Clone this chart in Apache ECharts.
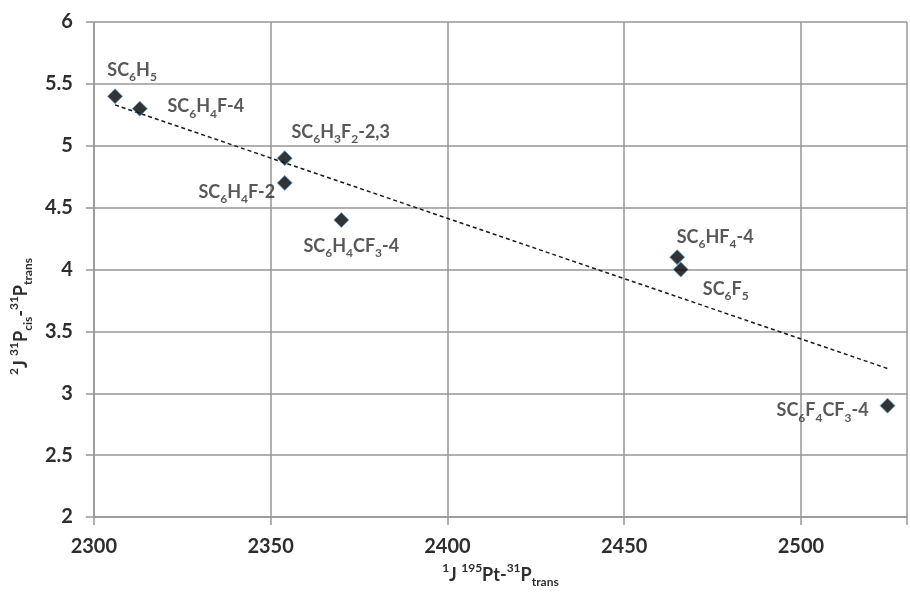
<!DOCTYPE html>
<html>
<head>
<meta charset="utf-8">
<script src="https://cdn.jsdelivr.net/npm/echarts@6/dist/echarts.min.js"></script>
<style>html,body{margin:0;padding:0;background:#fff}#c{width:910px;height:598px}</style>
</head>
<body>
<div id="c"></div>
<script>
// Data
var compounds = ['{m|SC}{s|6}{m|H}{s|5}', '{m|SC}{s|6}{m|H}{s|4}{m|F-4}', '{m|SC}{s|6}{m|H}{s|3}{m|F}{s|2}{m|-2,3}',
                 '{m|SC}{s|6}{m|H}{s|4}{m|F-2}', '{m|SC}{s|6}{m|H}{s|4}{m|CF}{s|3}{m|-4}', '{m|SC}{s|6}{m|HF}{s|4}{m|-4}',
                 '{m|SC}{s|6}{m|F}{s|5}', '{m|SC}{s|6}{m|F}{s|4}{m|CF}{s|3}{m|-4}'];
var jPtP = [2306, 2313, 2354, 2354, 2370, 2465, 2466, 2524.5];
var jPP = [5.4, 5.3, 4.9, 4.7, 4.4, 4.1, 4.0, 2.9];
var trendX = [2306, 2524.5];
var trendY = [5.33, 3.2];
var xTicks = [2300, 2350, 2400, 2450, 2500];
var yTicks = [2, 2.5, 3, 3.5, 4, 4.5, 5, 5.5, 6];

// label offsets (layout only)
var labelOffsets = [[17, -26], [66, -2], [56, -26], [-48, 9], [10, 26], [38, -20], [45, 20], [-65, 5]];

var FONT = 'Lato';
var TXT = '#2e2e2e';
var GRIDC = '#979797';

var chart = echarts.init(document.getElementById('c'), null, {renderer: 'canvas'});

var scatterData = jPtP.map(function (x, i) {
  return {
    value: [x, jPP[i]],
    label: {
      show: true,
      position: ['50%', '50%'],
      align: 'center',
      verticalAlign: 'middle',
      offset: labelOffsets[i],
      formatter: compounds[i]
    }
  };
});

var richStyles = {
  m: {fontFamily: FONT, fontWeight: 'bold', fontSize: 18, color: TXT, lineHeight: 26, verticalAlign: 'middle'},
  s: {fontFamily: FONT, fontWeight: 'bold', fontSize: 12, color: TXT, verticalAlign: 'bottom'},
  sup: {fontFamily: FONT, fontWeight: 'bold', fontSize: 12, color: TXT, verticalAlign: 'top'},
  sub: {fontFamily: FONT, fontWeight: 'bold', fontSize: 12, color: TXT, verticalAlign: 'bottom'}
};

var option = {
  animation: false,
  backgroundColor: '#fff',
  grid: {left: 87, top: 22, width: 830, height: 495, containLabel: false},
  xAxis: {
    type: 'value',
    min: 2300, max: 2530, interval: 50,
    axisLine: {show: true, lineStyle: {color: GRIDC, width: 1.5}},
    axisTick: {show: true, length: 8, lineStyle: {color: GRIDC, width: 1.5}},
    splitLine: {show: true, lineStyle: {color: GRIDC, width: 1.5}},
    axisLabel: {
      margin: 20, color: TXT, fontFamily: FONT, fontWeight: 'bold', fontSize: 20,
      formatter: function (v) { return xTicks.indexOf(v) >= 0 ? String(v) : ''; }
    },
    name: '{sup|1}{m|J }{sup|195}{m|Pt-}{sup|31}{m|P}{sub|trans}',
    nameLocation: 'middle',
    nameGap: 40,
    nameTextStyle: {
      color: TXT, fontFamily: FONT, fontWeight: 'bold', fontSize: 18, lineHeight: 26,
      rich: richStyles
    }
  },
  yAxis: {
    type: 'value',
    min: 2, max: 6, interval: 0.5,
    axisLine: {show: true, lineStyle: {color: GRIDC, width: 1.5}},
    axisTick: {show: true, length: 8, lineStyle: {color: GRIDC, width: 1.5}},
    splitLine: {show: true, lineStyle: {color: GRIDC, width: 1.5}},
    axisLabel: {
      margin: 21, color: TXT, fontFamily: FONT, fontWeight: 'bold', fontSize: 20,
      formatter: function (v) { return yTicks.indexOf(v) >= 0 ? String(v) : ''; }
    },
    name: '{sup|2}{m|J }{sup|31}{m|P}{sub|cis}{m|-}{sup|31}{m|P}{sub|trans}',
    nameLocation: 'middle',
    nameRotate: 90,
    nameGap: 52,
    nameTextStyle: {
      color: TXT, fontFamily: FONT, fontWeight: 'bold', fontSize: 18, lineHeight: 26,
      padding: [0, 94, 0, 0],
      rich: richStyles
    }
  },
  series: [
    {
      type: 'line',
      data: trendX.map(function (x, i) { return [x, trendY[i]]; }),
      symbol: 'none',
      silent: true,
      z: 2,
      lineStyle: {color: '#1a1a1a', width: 1.5, type: [4, 3]}
    },
    {
      type: 'scatter',
      data: scatterData,
      symbol: 'diamond',
      symbolSize: 15,
      z: 3,
      itemStyle: {color: '#000000', borderColor: '#5aa6e0', borderWidth: 1},
      label: {
        color: TXT, fontFamily: FONT, fontWeight: 'bold', fontSize: 18, lineHeight: 26,
        rich: richStyles
      }
    }
  ]
};
chart.setOption(option);
</script>
</body>
</html>
